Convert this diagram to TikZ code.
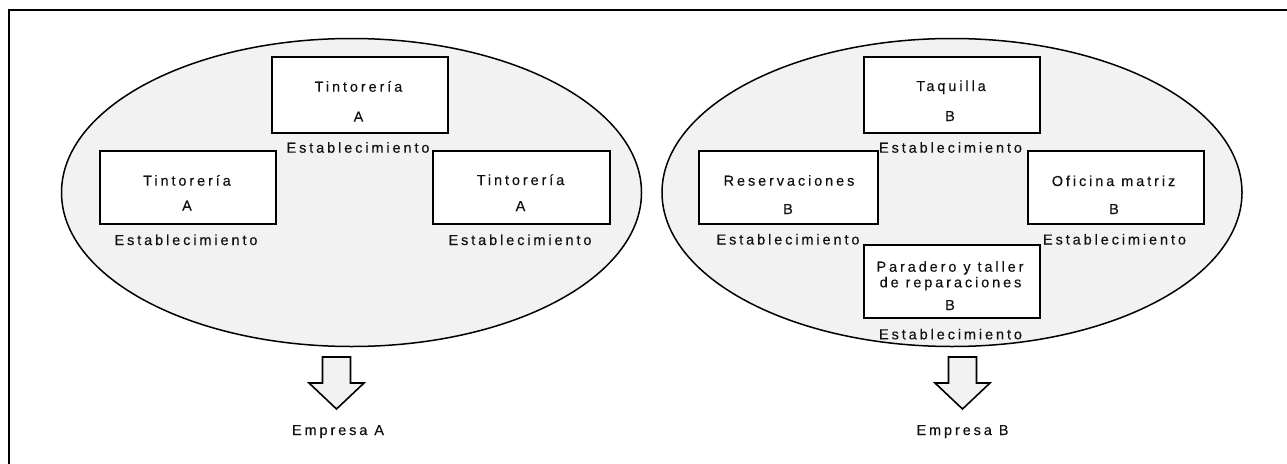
\documentclass[tikz,border=0pt]{standalone}
\usepackage{fontspec}
\setmainfont{Liberation Sans}[LetterSpace=20, FakeBold=0.3]
\definecolor{shade}{HTML}{F2F2F2}
\definecolor{ink}{HTML}{111111}
\begin{document}
\begin{tikzpicture}[x=1pt,y=-1pt,
  every node/.style={font=\fontsize{14.5}{17}\selectfont, text=ink},
  txt/.style={anchor=base, inner sep=0pt},
  frameline/.style={line width=2pt, black},
  group/.style={draw=black, line width=1.5pt, fill=shade},
  estab/.style={draw=black, line width=2pt, fill=white, rectangle, inner sep=0pt},
  blockarrow/.style={draw=black, line width=1.6pt, fill=shade, line join=miter}
]
\useasboundingbox (0,0) rectangle (1287,463);
% frame (top and left edges)
\coordinate (fTL) at (8.5,9.5);
\coordinate (fTR) at (1288,9.5);
\coordinate (fBL) at (8.5,464);
\draw[frameline] (fTR) -- (fTL) -- (fBL);

% ellipses
\draw[group] (351.5,192.5) ellipse [x radius=290, y radius=154];
\draw[group] (952,192.5) ellipse [x radius=290, y radius=154];

% Empresa A boxes
\node[estab, minimum width=176pt, minimum height=76pt] (a1) at (360,95) {};
\node[estab, minimum width=176pt, minimum height=73pt] (a2) at (188,187.5) {};
\node[estab, minimum width=177pt, minimum height=73pt] (a3) at (521.5,187.5) {};

\node[txt] (a1t) at (358.5,91.7) {Tintorería};
\node[txt] (a1s) at (358.5,121.7) {A};
\node[txt] (a1e) at (358,152.7) {Establecimiento};

\node[txt] (a2t) at (187,185.7) {Tintorería};
\node[txt] (a2s) at (187,210.7) {A};
\node[txt] (a2e) at (186,245) {Establecimiento};

\node[txt] (a3t) at (520.5,185) {Tintorería};
\node[txt] (a3s) at (520.5,211) {A};
\node[txt] (a3e) at (520,245) {Establecimiento};

% Empresa B boxes
\node[estab, minimum width=176pt, minimum height=76pt] (b1) at (952,95) {};
\node[estab, minimum width=178.7pt, minimum height=73pt] (b2) at (788.3,187.5) {};
\node[estab, minimum width=176.3pt, minimum height=73pt] (b3) at (1115.9,187.5) {};
\node[estab, minimum width=175.7pt, minimum height=73.3pt] (b4) at (952.2,281.7) {};

\node[txt] (b1t) at (951,91) {Taquilla};
\node[txt] (b1s) at (950,121) {B};
\node[txt] (b1e) at (950.5,152.7) {Establecimiento};

\node[txt] (b2t) at (789,185.7) {Reservaciones};
\node[txt] (b2s) at (788,214) {B};
\node[txt] (b2e) at (788,244.5) {Establecimiento};

\node[txt] (b3t) at (1113.5,186) {Oficina matriz};
\node[txt] (b3s) at (1114,214) {B};
\node[txt] (b3e) at (1114.5,244.5) {Establecimiento};

\node[txt] (b4t) at (950,271.7) {Paradero y taller};
\node[txt] (b4u) at (950.5,287.3) {de reparaciones};
\node[txt] (b4s) at (950,310) {B};
\node[txt] (b4e) at (950.5,339.3) {Establecimiento};

% block arrows
\coordinate (arA) at (336.5,357);
\coordinate (arB) at (962.5,357);
\draw[blockarrow] (arA) ++(-14,0) -- ++(28,0) -- ++(0,26) -- ++(13.5,0) -- ++(-27.5,26) -- ++(-27.5,-26) -- ++(13.5,0) -- cycle;
\draw[blockarrow] (arB) ++(-14,0) -- ++(28,0) -- ++(0,26) -- ++(13.5,0) -- ++(-27.5,26) -- ++(-27.5,-26) -- ++(13.5,0) -- cycle;

\node[txt] (ea) at (338,435) {Empresa A};
\node[txt] (eb) at (962.5,435) {Empresa B};
\end{tikzpicture}
\end{document}
